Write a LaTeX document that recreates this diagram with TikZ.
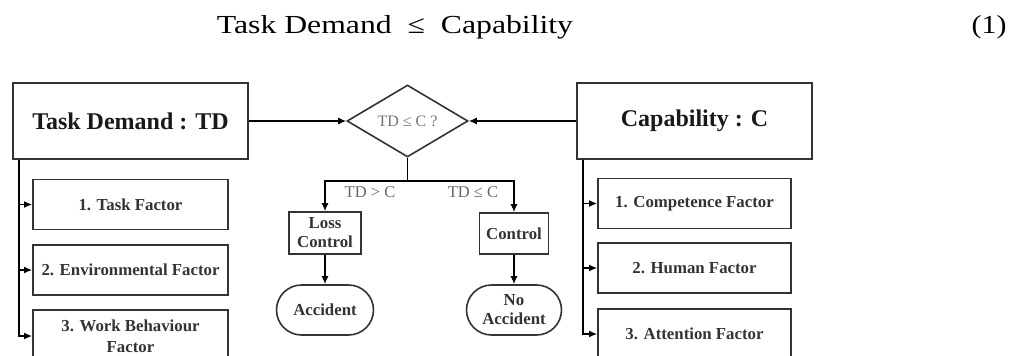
\documentclass[tikz,border=0pt]{standalone}
\usepackage{fontspec}
\setmainfont{Liberation Serif}
\usetikzlibrary{shapes.geometric,arrows.meta}

\begin{document}
\begin{tikzpicture}[x=1pt,y=-1pt]
                        \tikzstyle{mainbox}=[draw=black!80,line width=1.8pt,minimum width=235pt,minimum height=76pt,inner sep=0pt,font=\fontsize{24}{28}\selectfont\bfseries,text=black!90]
                        \tikzstyle{factor}=[draw=black!80,line width=1.8pt,minimum height=50pt,inner sep=0pt,align=center,font=\fontsize{16.8}{21}\selectfont\bfseries,text=black!80]
                        \tikzstyle{choice}=[draw=black!80,line width=1.6pt,diamond,minimum width=121pt,minimum height=72pt,inner sep=0pt,font=\fontsize{16}{19}\selectfont,text=black!55]
                        \tikzstyle{endbox}=[draw=black!80,line width=1.6pt,rounded corners=25pt,minimum height=50pt,inner sep=0pt,align=center,font=\fontsize{16.8}{21}\selectfont\bfseries,text=black!80]
                        \tikzstyle{cond}=[font=\fontsize{16.5}{19}\selectfont,text=black!60,inner sep=0pt]
                        \tikzstyle{link}=[line width=1.4pt]
                        \tikzstyle{arr}=[link,-{Latex[length=8pt,width=7pt]}]
                        \useasboundingbox (0,0) rectangle (1015,356);
                        \node[anchor=base,font=\fontsize{26}{30}\selectfont] (eq) at (395,33) {\scalebox{1.22}[1]{Task Demand \ ≤ \ Capability}};
                        \node[anchor=base east,font=\fontsize{26}{30}\selectfont] (eqno) at (1010,33) {\scalebox{1.15}[1]{(1)}};
                        \node[mainbox] (td) at (130.5,121) {Task Demand : TD};
                        \node[mainbox] (cap) at (694.5,121) {Capability : C};
                        \node[choice] (test) at (407.5,121) {TD ≤ C ?};
                        \node[factor,minimum width=195pt] (tdone) at (130.5,204.5) {1. Task Factor};
                        \node[factor,minimum width=195pt] (tdtwo) at (130.5,270) {2. Environmental Factor};
                        \node[factor,minimum width=195pt,minimum height=52pt] (tdthree) at (130.5,336) {3. Work Behaviour\\Factor};
                        \node[factor,minimum width=193pt] (capone) at (694.5,203.5) {1. Competence Factor};
                        \node[factor,minimum width=193pt] (captwo) at (694.5,268) {2. Human Factor};
                        \node[factor,minimum width=193pt] (capthree) at (694.5,334) {3. Attention Factor};
                        \node[factor,minimum width=72pt,minimum height=42pt,line width=1.6pt] (loss) at (325,233) {Loss\\[-2pt]Control};
                        \node[factor,minimum width=69pt,minimum height=41pt,line width=1.6pt] (ctrl) at (514,233.5) {Control};
                        \node[endbox,minimum width=97pt] (acc) at (325,310) {Accident};
                        \node[endbox,minimum width=95pt] (noacc) at (514,310) {No\\[-2pt]Accident};
                        \coordinate (split) at (407.5,181);
                        \coordinate (tdrail) at ([xshift=7pt]td.south west);
                        \coordinate (caprail) at ([xshift=7pt]cap.south west);
                        \draw[arr] (td.east) -- (test.west);
                        \draw[arr] (cap.west) -- (test.east);
                        \draw[link] (test.south) -- (split);
                        \draw[arr] (split) -| (loss.north);
                        \draw[arr] (split) -| (ctrl.north);
                        \draw[arr] (loss.south) -- (acc.north);
                        \draw[arr] (ctrl.south) -- (noacc.north);
                        \node[cond] (gt) at (370,192) {TD > C};
                        \node[cond] (le) at (473,192) {TD ≤ C};
                        \draw[arr] (tdrail) |- (tdone.west);
                        \draw[arr] (tdrail) |- (tdtwo.west);
                        \draw[arr] (tdrail) |- (tdthree.west);
                        \draw[arr] (caprail) |- (capone.west);
                        \draw[arr] (caprail) |- (captwo.west);
                        \draw[arr] (caprail) |- (capthree.west);
\end{tikzpicture}
\end{document}
